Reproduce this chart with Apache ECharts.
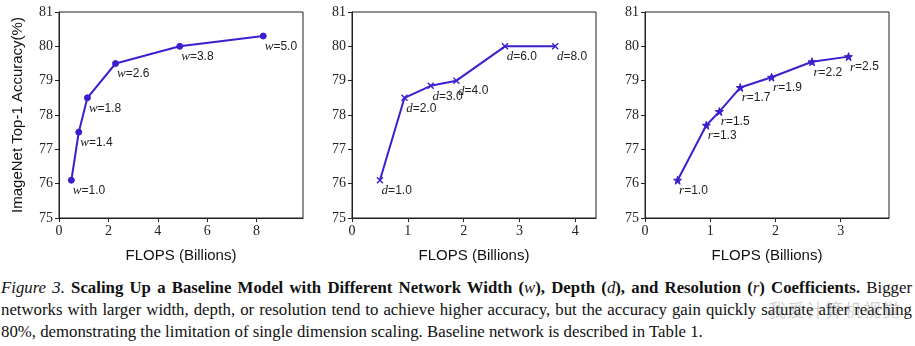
<!DOCTYPE html>
<html>
<head>
<meta charset="utf-8">
<script src="https://cdn.jsdelivr.net/npm/echarts@6/dist/echarts.min.js"></script>
<style>
  html, body { margin: 0; padding: 0; background: #fff; }
  #wrap { position: relative; width: 915px; height: 346px; overflow: hidden; }
  #chart { position: absolute; left: 0; top: 0; width: 915px; height: 268px; }
  .cap { position: absolute; left: 1px; top: 277px; width: 911px;
         font-family: 'Liberation Serif', 'DejaVu Serif', serif; font-size: 16.8px; color: #111; }
  .cap .l { height: 22px; line-height: 22px; white-space: nowrap; }
  .cap .j { text-align: justify; text-align-last: justify; white-space: normal; }
  .wm { position: absolute; left: 768px; top: 296px; font-family: 'Noto Sans CJK SC', sans-serif;
        font-size: 18px; color: rgba(120,120,120,0.35); letter-spacing: 1px; }
</style>
</head>
<body>
<div id="wrap">
  <div id="chart"></div>
  <div class="cap">
    <div class="l j"><i>Figure 3.</i> <b>Scaling Up a Baseline Model with Different Network Width (<i style="font-weight:normal">w</i>), Depth (<i style="font-weight:normal">d</i>), and Resolution (<i style="font-weight:normal">r</i>) Coefficients.</b> Bigger</div>
    <div class="l j">networks with larger width, depth, or resolution tend to achieve higher accuracy, but the accuracy gain quickly saturate after reaching</div>
    <div class="l">80%, demonstrating the limitation of single dimension scaling. Baseline network is described in Table 1.</div>
  </div>
  <div class="wm">我爱计算机视觉</div>
</div>
<script>
// 数据：宽度 / 深度 / 分辨率
const widthFlops = [0.5, 0.8, 1.15, 2.29, 4.89, 8.27]
const widthAcc = [76.1, 77.5, 78.5, 79.5, 80.0, 80.3]
const widthCoef = ['1.0', '1.4', '1.8', '2.6', '3.8', '5.0']

const depthFlops = [0.5, 0.94, 1.41, 1.87, 2.74, 3.64]
const depthAcc = [76.1, 78.5, 78.85, 79.0, 80.0, 80.0]
const depthCoef = ['1.0', '2.0', '3.0', '4.0', '6.0', '8.0']

const resFlops = [0.5, 0.94, 1.14, 1.46, 1.94, 2.56, 3.12]
const resAcc = [76.1, 77.7, 78.1, 78.8, 79.1, 79.55, 79.7]
const resCoef = ['1.0', '1.3', '1.5', '1.7', '1.9', '2.2', '2.5']

const xTicksW = [0, 2, 4, 6, 8]
const xTicksD = [0, 1, 2, 3, 4]
const xTicksR = [0, 1, 2, 3]
const yTicks = [75, 76, 77, 78, 79, 80, 81]

const lineColor = '#3a1fcf'
const serif = "'Liberation Serif', 'DejaVu Serif', serif"
const sans = "'Liberation Sans', Arial, sans-serif"

const starPath = 'path://M5,0L6.18,3.38L9.76,3.45L6.9,5.62L7.94,9.05L5,7L2.06,9.05L3.1,5.62L0.24,3.45L3.82,3.38Z'
const crossPath = 'path://M0,0L10,10M10,0L0,10'

function grid(left, right) {
  return { left: left, width: right - left, top: 12, height: 206, show: true,
    borderColor: '#222', borderWidth: 1, backgroundColor: 'transparent' }
}

function xAxis(idx, max, ticks) {
  return {
    type: 'value', gridIndex: idx, min: 0, max: max,
    name: 'FLOPS (Billions)', nameLocation: 'middle', nameGap: 30,
    nameTextStyle: { fontFamily: sans, fontSize: 15, color: '#111' },
    axisLine: { show: true, lineStyle: { color: '#222', width: 1 } },
    axisTick: { show: true, length: 4, lineStyle: { color: '#222' }, customValues: ticks },
    axisLabel: { fontFamily: serif, fontSize: 14, color: '#222', margin: 6, customValues: ticks },
    splitLine: { show: false }
  }
}

function yAxis(idx, withName) {
  return {
    type: 'value', gridIndex: idx, min: 75, max: 81, interval: 1,
    name: withName ? 'ImageNet Top-1 Accuracy(%)' : '',
    nameLocation: 'middle', nameGap: 34, nameRotate: 90,
    nameTextStyle: { fontFamily: sans, fontSize: 15, color: '#111' },
    axisLine: { show: true, lineStyle: { color: '#222', width: 1 } },
    axisTick: { show: true, length: 4, lineStyle: { color: '#222' }, customValues: yTicks },
    axisLabel: { fontFamily: serif, fontSize: 14, color: '#222', margin: 6, customValues: yTicks },
    splitLine: { show: false }
  }
}

function series(idx, xs, ys, coefs, letter, symbol, size, style) {
  return {
    type: 'line', xAxisIndex: idx, yAxisIndex: idx,
    data: xs.map((x, i) => [x, ys[i], coefs[i]]),
    symbol: symbol, symbolSize: size, showSymbol: true,
    lineStyle: { color: lineColor, width: 2 },
    itemStyle: style,
    label: {
      show: true, position: 'right', distance: 0, offset: [-size / 2 + 1, 10.5],
      formatter: p => '{i|' + letter + '}{n|=' + p.data[2] + '}',
      rich: {
        i: { fontFamily: serif, fontStyle: 'italic', fontSize: 13, color: '#222' },
        n: { fontFamily: sans, fontSize: 12, color: '#222' }
      }
    },
    animation: false, z: 3
  }
}

const chart = echarts.init(document.getElementById('chart'))
chart.setOption({
  backgroundColor: '#fff',
  animation: false,
  grid: [grid(59, 303), grid(352, 596), grid(645, 889)],
  xAxis: [xAxis(0, 9.88, xTicksW), xAxis(1, 4.37, xTicksD), xAxis(2, 3.74, xTicksR)],
  yAxis: [yAxis(0, true), yAxis(1, false), yAxis(2, false)],
  series: [
    series(0, widthFlops, widthAcc, widthCoef, 'w', 'circle', 6,
      { color: lineColor, borderColor: lineColor }),
    series(1, depthFlops, depthAcc, depthCoef, 'd', crossPath, 6,
      { color: lineColor, borderColor: lineColor, borderWidth: 1.4 }),
    series(2, resFlops, resAcc, resCoef, 'r', starPath, 8,
      { color: lineColor, borderColor: lineColor })
  ]
})
</script>
</body>
</html>
